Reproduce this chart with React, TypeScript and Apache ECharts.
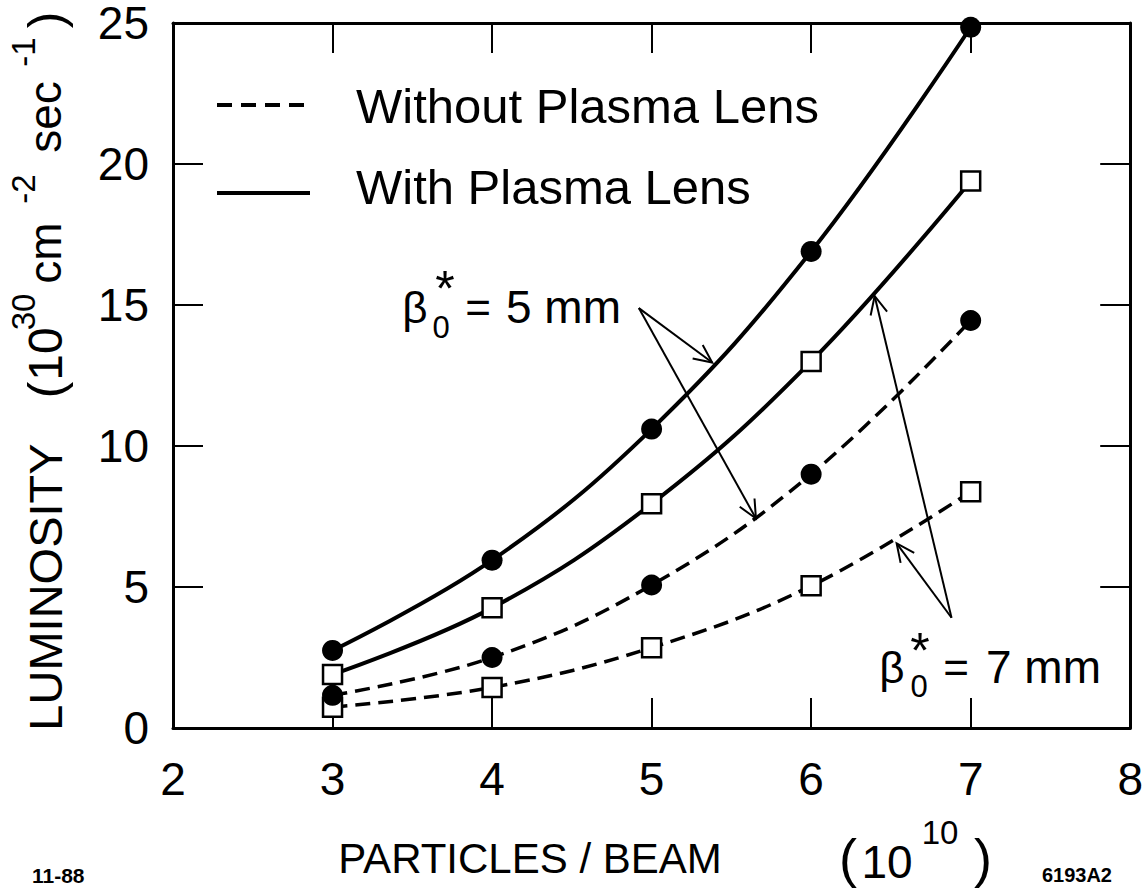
import React, { useEffect, useRef } from "react";
import * as echarts from "echarts";

const particles = [3, 4, 5, 6, 7];
const withLens5mm = [2.75, 5.95, 10.6, 16.9, 24.85];
const withLens7mm = [1.9, 4.26, 7.95, 13.0, 19.4];
const withoutLens5mm = [1.16, 2.5, 5.07, 9.0, 14.45];
const withoutLens7mm = [0.74, 1.44, 2.85, 5.04, 8.38];

const xMin = 2, xMax = 8, xStep = 1;
const yMin = 0, yMax = 25, yStep = 5;

// annotation anchors in data coordinates: [from, tip]
const arrows5mm = [
  [[4.92, 14.89], [5.38, 12.96]],
  [[4.92, 14.89], [5.654, 7.43]],
];
const arrows7mm = [
  [[6.88, 3.91], [6.536, 6.55]],
  [[6.88, 3.91], [6.398, 15.32]],
];

const FONT = '"Liberation Sans", Arial, Helvetica, sans-serif';

function pts(ys: number[]) {
  return particles.map((x, i) => [x, ys[i]]);
}

export default function App() {
  const ref = useRef<HTMLDivElement>(null);
  useEffect(() => {
    if (!ref.current) return;
    const chart = echarts.init(ref.current, null, { renderer: "svg" });
    const axisLine = { show: true, onZero: false, lineStyle: { color: "#000", width: 3 } };
    const axisTick = { show: true, inside: true, length: 30, lineStyle: { color: "#000", width: 2 } };
    const solid = { color: "#000", width: 4, type: "solid" };
    const dashed = { color: "#000", width: 3.5, type: [15, 8] };
    const circle = { symbol: "circle", symbolSize: 21, itemStyle: { color: "#000", borderColor: "#000", borderWidth: 0 } };
    const square = { symbol: "rect", symbolSize: 19, itemStyle: { color: "#fff", borderColor: "#000", borderWidth: 2.5 } };
    const common = { type: "line", smooth: 0.4, clip: false, showSymbol: true, silent: true };
    chart.setOption({
      animation: false,
      backgroundColor: "#fff",
      grid: { left: 173, top: 18, right: 14, bottom: 168 },
      xAxis: [
        {
          type: "value", min: xMin, max: xMax, interval: xStep, position: "bottom",
          axisLine, axisTick,
          axisLabel: { fontSize: 46, color: "#000", margin: 28, fontFamily: FONT },
          splitLine: { show: false },
        },
        {
          type: "value", min: xMin, max: xMax, interval: xStep, position: "top",
          axisLine, axisTick, axisLabel: { show: false }, splitLine: { show: false },
        },
      ],
      yAxis: [
        {
          type: "value", min: yMin, max: yMax, interval: yStep, position: "left",
          axisLine, axisTick,
          axisLabel: { fontSize: 46, color: "#000", margin: 24, fontFamily: FONT, lineHeight: 34 },
          splitLine: { show: false },
        },
        {
          type: "value", min: yMin, max: yMax, interval: yStep, position: "right",
          axisLine, axisTick, axisLabel: { show: false }, splitLine: { show: false },
        },
      ],
      series: [
        { ...common, name: "Without 7mm", data: pts(withoutLens7mm), lineStyle: dashed, ...square, z: 2 },
        { ...common, name: "Without 5mm", data: pts(withoutLens5mm), lineStyle: dashed, ...circle, z: 2 },
        { ...common, name: "With 7mm", data: pts(withLens7mm), lineStyle: solid, ...square, z: 3 },
        { ...common, name: "With 5mm", data: pts(withLens5mm), lineStyle: solid, ...circle, z: 3 },
      ],
    });

    const txt = (text: string, x: number, y: number, fontSize: number, extra: any = {}) => ({
      type: "text", x, y, z: 100,
      style: { text, fontSize, fontFamily: FONT, fill: "#000", align: "center", verticalAlign: "middle", ...(extra.style || {}) },
      ...(extra.el || {}),
    });
    const rot = (lh?: number) => ({ el: { rotation: Math.PI / 2 }, style: lh ? { lineHeight: lh } : {} });

    const arrowEls: any[] = [];
    const mk = (pair: number[][]) => {
      const a = chart.convertToPixel({ gridIndex: 0 }, pair[0]) as number[];
      const b = chart.convertToPixel({ gridIndex: 0 }, pair[1]) as number[];
      const dx = a[0] - b[0], dy = a[1] - b[1];
      const len = Math.hypot(dx, dy);
      const ux = dx / len, uy = dy / len;
      const L = 20, ang = (25 * Math.PI) / 180;
      const r = (s: number) => [
        b[0] + L * (ux * Math.cos(s) - uy * Math.sin(s)),
        b[1] + L * (ux * Math.sin(s) + uy * Math.cos(s)),
      ];
      arrowEls.push({
        type: "line", z: 90,
        shape: { x1: a[0], y1: a[1], x2: b[0], y2: b[1] },
        style: { stroke: "#000", lineWidth: 2 },
      });
      arrowEls.push({
        type: "polyline", z: 90,
        shape: { points: [r(ang), b, r(-ang)] },
        style: { stroke: "#000", lineWidth: 2, fill: null },
      });
    };
    arrows5mm.forEach(mk);
    arrows7mm.forEach(mk);

    const left = { style: { align: "left" } };
    const sm = (lh: number, extra: any = {}) => ({ style: { lineHeight: lh, ...extra } });
    chart.setOption({
      graphic: [
        // legend
        { type: "line", z: 100, shape: { x1: 217, y1: 105, x2: 310, y2: 105 }, style: { stroke: "#000", lineWidth: 4, lineDash: [15, 9] } },
        { type: "line", z: 100, shape: { x1: 217, y1: 193, x2: 310, y2: 193 }, style: { stroke: "#000", lineWidth: 4 } },
        txt("Without Plasma Lens", 356, 106, 49, left),
        txt("With Plasma Lens", 356, 187, 49, left),
        // y axis title
        txt("LUMINOSITY", 45, 587, 47, rot()),
        txt("(", 46, 390, 50, rot(36)),
        txt("10", 45, 354, 48, rot(36)),
        txt("30", 23, 312, 33, rot(22)),
        txt("cm", 45, 253, 46, rot(30)),
        txt("-2", 23, 189, 33, rot(22)),
        txt("sec", 45, 117, 46, rot(30)),
        txt("-1", 23, 52, 33, rot(22)),
        txt(")", 46, 20, 50, rot(36)),
        // x axis title
        txt("PARTICLES / BEAM", 530, 858, 42),
        txt("(", 848, 858, 54),
        txt("10", 887, 862, 46),
        txt("10", 940, 832, 33, sm(24)),
        txt(")", 983, 858, 54),
        txt("11-88", 32, 875, 21, { style: { align: "left", fontWeight: "bold" } }),
        txt("6193A2", 1112, 875, 20, { style: { align: "right", fontWeight: "bold" } }),
        // beta 5mm
        txt("\u03b2", 415, 307, 44),
        txt("0", 441, 327, 31, sm(22)),
        txt("*", 445, 289, 50, sm(14)),
        txt("=", 478, 307, 44),
        txt("5 mm", 506, 307, 46, left),
        // beta 7mm
        txt("\u03b2", 892, 667, 44),
        txt("0", 919, 686, 31, sm(22)),
        txt("*", 920, 651, 50, sm(14)),
        txt("=", 956, 667, 44),
        txt("7 mm", 986, 667, 46, left),
        ...arrowEls,
      ],
    });
    return () => chart.dispose();
  }, []);
  return (
    <div
      ref={ref}
      style={{ position: "absolute", left: 0, top: 0, width: 1146, height: 896, background: "#fff" }}
    />
  );
}
